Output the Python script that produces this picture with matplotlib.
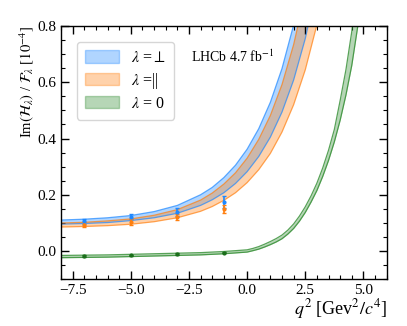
import matplotlib
matplotlib.use("Agg")
import matplotlib.pyplot as plt
from matplotlib.ticker import MultipleLocator
from matplotlib.patches import Patch

plt.rcParams['font.family'] = ['Liberation Serif', 'DejaVu Serif']
plt.rcParams['mathtext.fontset'] = 'stix'

# q^2 grid for bands (lambda = perp, parallel)
q2_band = [-8, -7, -6, -5, -4, -3, -2, -1.5, -1, -0.5, 0, 0.5, 1, 1.5, 2, 2.5, 3, 3.5]
perp_hi = [0.110, 0.113, 0.118, 0.126, 0.140, 0.162, 0.200, 0.226, 0.261, 0.305, 0.362, 0.435, 0.529, 0.649, 0.804, 1.002, 1.26, 1.58]
perp_lo = [0.0955, 0.0977, 0.101, 0.108, 0.118, 0.134, 0.162, 0.182, 0.207, 0.240, 0.282, 0.336, 0.405, 0.494, 0.608, 0.755, 0.944, 1.185]
para_hi = [0.0993, 0.102, 0.107, 0.114, 0.127, 0.147, 0.181, 0.206, 0.238, 0.278, 0.330, 0.397, 0.482, 0.592, 0.734, 0.915, 1.148, 1.45]
para_lo = [0.085, 0.087, 0.090, 0.095, 0.104, 0.118, 0.141, 0.158, 0.180, 0.207, 0.243, 0.289, 0.347, 0.423, 0.520, 0.644, 0.804, 1.008]

# q^2 grid for lambda = 0 band
q2_green = [-8, -7, -6, -5, -4, -3, -2, -1, -0.5, 0, 0.25, 0.5, 0.75, 1, 1.25, 1.5, 1.75, 2,
            2.25, 2.5, 2.75, 3, 3.25, 3.5, 3.75, 4, 4.25, 4.5, 4.75, 5]
zero_lo = [-0.024, -0.023, -0.022, -0.020, -0.018, -0.016, -0.014, -0.010, -0.007, -0.004, 0.001, 0.0065,
           0.014, 0.0225, 0.032, 0.0435, 0.060, 0.080, 0.106, 0.137, 0.174, 0.215, 0.265, 0.322, 0.388,
           0.465, 0.555, 0.660, 0.795, 0.950]
zero_hi = [-0.016, -0.015, -0.014, -0.012, -0.010, -0.008, -0.006, -0.002, 0.001, 0.004, 0.009, 0.0155,
           0.024, 0.0335, 0.044, 0.0565, 0.074, 0.096, 0.124, 0.157, 0.196, 0.241, 0.295, 0.358, 0.432,
           0.535, 0.645, 0.780, 0.945, 1.130]

# data points
q2_pts = [-7, -5, -3, -1]
perp_val = [0.105, 0.122, 0.140, 0.175]
perp_err = [0.008, 0.009, 0.014, 0.022]
para_val = [0.094, 0.103, 0.120, 0.150]
para_err = [0.008, 0.010, 0.010, 0.015]
zero_val = [-0.018, -0.016, -0.011, -0.006]
zero_err = [0.002, 0.002, 0.002, 0.002]

legend_labels = [r'$\lambda$ =$\perp$', r'$\lambda$ =||', r'$\lambda$ = 0']

blue = '#1e88ff'
orange = '#ff7f0e'
green = '#2e8b2e'

fig = plt.figure(figsize=(4.07, 3.26), dpi=100)
ax = fig.add_axes([0.150, 0.144, 0.800, 0.776])

ax.fill_between(q2_band, perp_lo, perp_hi, color=blue, alpha=0.35, lw=0)
ax.plot(q2_band, perp_lo, color=blue, lw=0.9, alpha=0.7)
ax.plot(q2_band, perp_hi, color=blue, lw=0.9, alpha=0.7)
ax.fill_between(q2_band, para_lo, para_hi, color=orange, alpha=0.35, lw=0)
ax.plot(q2_band, para_lo, color=orange, lw=0.9, alpha=0.7)
ax.plot(q2_band, para_hi, color=orange, lw=0.9, alpha=0.7)
ax.fill_between(q2_green, zero_lo, zero_hi, color=green, alpha=0.35, lw=0)
ax.plot(q2_green, zero_lo, color=green, lw=0.9, alpha=0.8)
ax.plot(q2_green, zero_hi, color=green, lw=0.9, alpha=0.8)

ax.errorbar(q2_pts, perp_val, yerr=perp_err, fmt='o', ms=2, color=blue, capsize=1.5, elinewidth=1.2, capthick=1)
ax.errorbar(q2_pts, para_val, yerr=para_err, fmt='o', ms=2, color=orange, capsize=1.5, elinewidth=1.2, capthick=1)
ax.errorbar(q2_pts, zero_val, yerr=zero_err, fmt='o', ms=2, color='#1a6e1a', capsize=1.5, elinewidth=1.2, capthick=1)

ax.set_xlim(-8, 6)
ax.set_ylim(-0.1, 0.8)
ax.xaxis.set_major_locator(MultipleLocator(2.5))
ax.xaxis.set_minor_locator(MultipleLocator(0.5))
ax.yaxis.set_major_locator(MultipleLocator(0.2))
ax.yaxis.set_minor_locator(MultipleLocator(0.05))
ax.tick_params(which='both', direction='in', top=True, right=True, labelsize=11)
ax.tick_params(which='major', length=6, width=1)
ax.tick_params(which='minor', length=3, width=0.8)
for s in ax.spines.values():
    s.set_linewidth(1.0)

ax.set_xlabel(r'$q^2$ [Gev$^2/c^4$]', fontsize=13, loc='right', labelpad=0)
ax.set_ylabel(r'Im$(\mathcal{H}_\lambda)$ / $\mathcal{F}_\lambda$ [$10^{-4}$]', fontsize=10.5, loc='top', labelpad=1)

ax.text(0.40, 0.877, r'LHCb 4.7 fb$^{-1}$', transform=ax.transAxes, fontsize=10, va='center', ha='left')

handles = [
    Patch(facecolor=blue, alpha=0.35, edgecolor=blue),
    Patch(facecolor=orange, alpha=0.35, edgecolor=orange),
    Patch(facecolor=green, alpha=0.35, edgecolor=green),
]
ax.legend(handles, legend_labels, loc='upper left', fontsize=11.5, frameon=True,
          handlelength=2.1, handleheight=0.8, labelspacing=0.3, handletextpad=0.8,
          borderaxespad=1.0, borderpad=0.5)

fig.savefig('out.png', dpi=100)
